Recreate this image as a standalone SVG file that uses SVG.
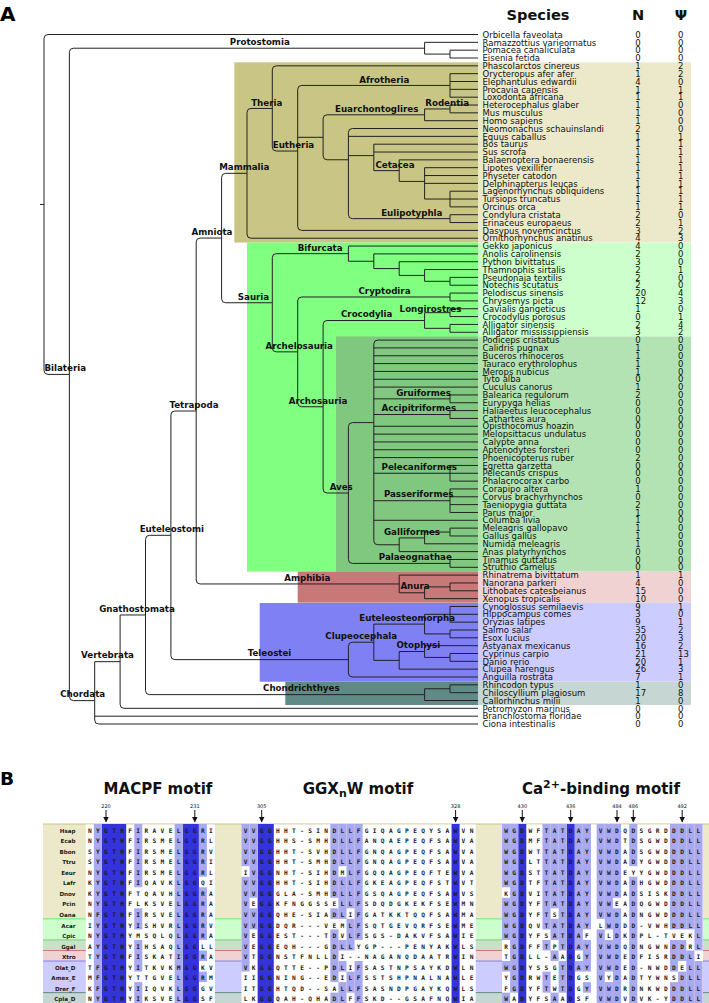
<svg xmlns="http://www.w3.org/2000/svg" width="709" height="1003" viewBox="0 0 709 1003">
<style>
.t{fill:none;stroke:#222;stroke-width:1}
.lb{font-family:"DejaVu Sans",sans-serif;font-weight:bold;font-size:8.7px;fill:#111;text-anchor:middle}
.sp{font-family:"DejaVu Sans",sans-serif;font-size:8.5px;fill:#111}
.hd{font-family:"DejaVu Sans",sans-serif;font-weight:bold;font-size:14.6px;fill:#111;text-anchor:middle}
.pl{font-family:"DejaVu Sans",sans-serif;font-weight:bold;fill:#000}
.ti{font-family:"DejaVu Sans",sans-serif;font-weight:bold;font-size:15px;fill:#111;text-anchor:middle}
.aa{font-family:"DejaVu Sans Mono",monospace;font-weight:bold;font-size:6.2px;letter-spacing:4.347px;fill:#1a1a1a}
.ab{font-family:"DejaVu Sans Mono",monospace;font-weight:bold;font-size:6.2px;letter-spacing:4.417px;fill:#1a1a1a}
.rl{font-family:"DejaVu Sans",sans-serif;font-weight:bold;font-size:5.6px;fill:#1a1a1a;text-anchor:end}
.pn{font-family:"DejaVu Sans",sans-serif;font-size:5px;fill:#111;text-anchor:middle}
.dk{fill:#3333d9}
.lt{fill:#a9a9ef}
.ar{stroke:#111;stroke-width:1;marker-end:url(#ah)}
</style>
<defs>
<marker id="ah" markerWidth="6" markerHeight="6" refX="5" refY="3" orient="auto" markerUnits="userSpaceOnUse"><path d="M0,0 L6,3 L0,6 z" fill="#111"/></marker>
</defs>
<rect width="709" height="1003" fill="#fff"/>
<text class="pl" x="0" y="20.7" font-size="20">A</text>
<g id="header">
<text class="hd" x="538" y="19.5">Species</text>
<text class="hd" x="638" y="19.5">N</text>
<text class="hd" x="681" y="19.5">Ψ</text>
</g>
<g id="clade-boxes">
<rect x="234.3" y="62.3" width="243.7" height="180.3" fill="#c9c584"/>
<rect x="478" y="62.3" width="213" height="180.3" fill="#ebe9ca"/>
<rect x="247" y="242.6" width="231" height="329" fill="#80ff80"/>
<rect x="478" y="242.6" width="213" height="93.9" fill="#ccffcc"/>
<rect x="336" y="336.5" width="142" height="235.1" fill="#80c880"/>
<rect x="478" y="336.5" width="213" height="235.1" fill="#b3e3b3"/>
<rect x="297.7" y="571.6" width="180.3" height="31.1" fill="#c87878"/>
<rect x="478" y="571.6" width="213" height="31.1" fill="#f0d2d2"/>
<rect x="259.7" y="603" width="218.3" height="78.7" fill="#8080f5"/>
<rect x="478" y="602.7" width="213" height="79" fill="#ccccff"/>
<rect x="285.3" y="681.7" width="192.7" height="23.3" fill="#5f8a85"/>
<rect x="478" y="681.7" width="213" height="23.3" fill="#c6d6d2"/>
</g>
<g id="tree-connectors" class="t">
<path d="M40,204.46 H44 M478,34.5 H48 Q44,34.5 44,38.5 V370.42 Q44,374.42 48,374.42 H69.4"/>
<path d="M424.6,48.21 H73.4 Q69.4,48.21 69.4,52.21 V696.62 Q69.4,700.62 73.4,700.62 H94.7"/>
<path d="M478,42.34 H424.6 V54.09 H450 M478,50.17 H450 V58 H478"/>
<path d="M120.1,661.66 H94.7 V720.01 Q94.7,724.01 98.7,724.01 H478 M94.7,716.18 H478"/>
<path d="M145.5,614.97 H120.1 V704.34 Q120.1,708.34 124.1,708.34 H478"/>
<path d="M170.9,535.31 H149.5 Q145.5,535.31 145.5,539.31 V690.63 Q145.5,694.63 149.5,694.63 H424.6"/>
<path d="M196.2,411 H174.9 Q170.9,411 170.9,415 V655.62 Q170.9,659.62 174.9,659.62 H348.4"/>
<path d="M221.6,238.05 H200.2 Q196.2,238.05 196.2,242.05 V579.96 Q196.2,583.96 200.2,583.96 H399.2"/>
<path d="M247,173.33 H225.6 Q221.6,173.33 221.6,177.33 V298.76 Q221.6,302.76 225.6,302.76 H272.3"/>
<path d="M272.3,108.44 H251 Q247,108.44 247,112.44 V234.22 Q247,238.22 251,238.22 H478"/>
<path d="M478,65.84 H276.3 Q272.3,65.84 272.3,69.84 V147.04 Q272.3,151.04 276.3,151.04 H297.7"/>
<path d="M450,85.43 H301.7 Q297.7,85.43 297.7,89.43 V226.39 Q297.7,230.39 301.7,230.39 H478 M297.7,137.3 H323.1"/>
<path d="M478,73.68 H450 V97.18 H478 M450,81.51 H478 M450,89.35 H478"/>
<path d="M424.6,114.81 H327.1 Q323.1,114.81 323.1,118.81 V155.78 Q323.1,159.78 327.1,159.78 H348.4"/>
<path d="M450,108.94 H424.6 V120.69 H478 M478,105.02 H450 V112.85 H478"/>
<path d="M478,128.52 H352.4 Q348.4,128.52 348.4,132.52 V214.63 Q348.4,218.63 352.4,218.63 H450 M348.4,136.36 H478 M348.4,155.62 H373.8"/>
<path d="M478,144.19 H373.8 V170.64 H399.2 M373.8,152.03 H478"/>
<path d="M478,159.87 H399.2 V181.41 H424.6"/>
<path d="M478,167.7 H424.6 V199.04 H450 M424.6,175.54 H478 M424.6,183.37 H478"/>
<path d="M478,191.21 H450 V206.88 H478 M450,199.04 H478"/>
<path d="M478,214.71 H450 V222.55 H478"/>
<path d="M348.4,253.65 H276.3 Q272.3,253.65 272.3,257.65 V347.87 Q272.3,351.87 276.3,351.87 H297.7"/>
<path d="M478,246.06 H348.4 V261.24 H373.8 M478,253.89 H373.8 V268.59 H399.2 M478,261.73 H399.2 V275.44 H424.6 M478,269.56 H424.6 V281.32 H450 M478,277.4 H450 V285.23 H478"/>
<path d="M450,296.99 H301.7 Q297.7,296.99 297.7,300.99 V402.75 Q297.7,406.75 301.7,406.75 H323.1"/>
<path d="M478,293.07 H450 V300.9 H478"/>
<path d="M424.6,320.5 H327.1 Q323.1,320.5 323.1,324.5 V489.01 Q323.1,493.01 327.1,493.01 H348.4"/>
<path d="M450,312.66 H424.6 V328.33 H450 M478,308.74 H450 V316.58 H478 M478,324.41 H450 V332.25 H478"/>
<path d="M373.8,422.62 H352.4 Q348.4,422.62 348.4,426.62 V559.39 Q348.4,563.39 352.4,563.39 H450"/>
<path d="M478,340.08 H377.8 Q373.8,340.08 373.8,344.08 V540.78 Q373.8,544.78 377.8,544.78 H399.2 M373.8,347.92 H478 M373.8,355.75 H478 M373.8,363.59 H478 M373.8,371.42 H478 M373.8,379.26 H478 M373.8,387.09 H478 M373.8,398.85 H450 M373.8,414.52 H450 M373.8,426.27 H478 M373.8,434.11 H478 M373.8,441.94 H478 M373.8,449.78 H478 M373.8,457.61 H478 M373.8,473.28 H450 M373.8,500.71 H450 M373.8,520.29 H478"/>
<path d="M478,394.93 H450 V402.76 H478 M478,410.6 H450 V418.43 H478"/>
<path d="M478,465.45 H450 V481.12 H478 M450,473.28 H478"/>
<path d="M478,488.95 H450 V512.46 H478 M450,496.79 H478 M450,504.62 H478"/>
<path d="M424.6,537.93 H399.2 V551.64 H478 M450,532.05 H424.6 V543.8 H478 M478,528.13 H450 V535.97 H478"/>
<path d="M478,559.47 H450 V567.31 H478"/>
<path d="M478,575.14 H399.2 V592.77 H424.6 M450,586.9 H424.6 V598.65 H478 M478,582.98 H450 V590.81 H478"/>
<path d="M373.8,642.23 H352.4 Q348.4,642.23 348.4,646.23 V673 Q348.4,677 352.4,677 H478"/>
<path d="M424.6,624.11 H373.8 V660.35 H399.2 M450,614.32 H424.6 V633.91 H450 M478,606.48 H450 V622.15 H478 M450,614.32 H478 M478,629.99 H450 V637.82 H478"/>
<path d="M424.6,651.53 H399.2 V669.17 H478 M478,645.66 H424.6 V657.41 H450 M478,653.49 H450 V661.33 H478"/>
<path d="M450,688.75 H424.6 V700.51 H478 M478,684.84 H450 V692.67 H478"/>
</g>
<g id="clade-labels" class="lb">
<text x="259.8" y="45.4">Protostomia</text>
<text x="266.7" y="106.1">Theria</text>
<text x="384.3" y="82.6">Afrotheria</text>
<text x="376.7" y="112.1">Euarchontoglires</text>
<text x="447.2" y="106.1">Rodentia</text>
<text x="293.5" y="148.1">Eutheria</text>
<text x="395" y="168.1">Cetacea</text>
<text x="244.3" y="170.1">Mammalia</text>
<text x="411.8" y="215.8">Eulipotyphla</text>
<text x="212" y="235.1">Amniota</text>
<text x="320.2" y="250.8">Bifurcata</text>
<text x="253.5" y="299.8">Sauria</text>
<text x="384.5" y="294.1">Cryptodira</text>
<text x="366.7" y="317.4">Crocodylia</text>
<text x="430.5" y="312.1">Longirostres</text>
<text x="299.2" y="348.8">Archelosauria</text>
<text x="65.2" y="371.4">Bilateria</text>
<text x="423.5" y="395.8">Gruiformes</text>
<text x="418.8" y="411.1">Accipitriformes</text>
<text x="318" y="403.8">Archosauria</text>
<text x="194" y="408.1">Tetrapoda</text>
<text x="419.3" y="470.1">Pelecaniformes</text>
<text x="341.2" y="489.8">Aves</text>
<text x="418.7" y="497.4">Passeriformes</text>
<text x="171.8" y="531.8">Euteleostomi</text>
<text x="412" y="534.8">Galliformes</text>
<text x="415.3" y="560.1">Palaeognathae</text>
<text x="307.3" y="580.8">Amphibia</text>
<text x="415" y="589.4">Anura</text>
<text x="137" y="611.8">Gnathostomata</text>
<text x="407.2" y="620.8">Euteleosteomorpha</text>
<text x="361.2" y="639.1">Clupeocephala</text>
<text x="418.3" y="648.4">Otophysi</text>
<text x="269.5" y="656.1">Teleostei</text>
<text x="107.5" y="658.4">Vertebrata</text>
<text x="301.3" y="691.1">Chondrichthyes</text>
<text x="82.7" y="697.1">Chordata</text>
</g>
<g id="species">
<text class="sp" y="37.7"><tspan x="482.5">Orbicella faveolata</tspan><tspan x="482.5" dy="7.835">Ramazzottius varieornatus</tspan><tspan x="482.5" dy="7.835">Pomacea canaliculata</tspan><tspan x="482.5" dy="7.835">Eisenia fetida</tspan><tspan x="482.5" dy="7.835">Phascolarctos cinereus</tspan><tspan x="482.5" dy="7.835">Orycteropus afer afer</tspan><tspan x="482.5" dy="7.835">Elephantulus edwardii</tspan><tspan x="482.5" dy="7.835">Procavia capensis</tspan><tspan x="482.5" dy="7.835">Loxodonta africana</tspan><tspan x="482.5" dy="7.835">Heterocephalus glaber</tspan><tspan x="482.5" dy="7.835">Mus musculus</tspan><tspan x="482.5" dy="7.835">Homo sapiens</tspan><tspan x="482.5" dy="7.835">Neomonachus schauinslandi</tspan><tspan x="482.5" dy="7.835">Equus caballus</tspan><tspan x="482.5" dy="7.835">Bos taurus</tspan><tspan x="482.5" dy="7.835">Sus scrofa</tspan><tspan x="482.5" dy="7.835">Balaenoptera bonaerensis</tspan><tspan x="482.5" dy="7.835">Lipotes vexillifer</tspan><tspan x="482.5" dy="7.835">Physeter catodon</tspan><tspan x="482.5" dy="7.835">Delphinapterus leucas</tspan><tspan x="482.5" dy="7.835">Lagenorhynchus obliquidens</tspan><tspan x="482.5" dy="7.835">Tursiops truncatus</tspan><tspan x="482.5" dy="7.835">Orcinus orca</tspan><tspan x="482.5" dy="7.835">Condylura cristata</tspan><tspan x="482.5" dy="7.835">Erinaceus europaeus</tspan><tspan x="482.5" dy="7.835">Dasypus novemcinctus</tspan><tspan x="482.5" dy="7.835">Ornithorhynchus anatinus</tspan><tspan x="482.5" dy="7.835">Gekko japonicus</tspan><tspan x="482.5" dy="7.835">Anolis carolinensis</tspan><tspan x="482.5" dy="7.835">Python bivittatus</tspan><tspan x="482.5" dy="7.835">Thamnophis sirtalis</tspan><tspan x="482.5" dy="7.835">Pseudonaja textilis</tspan><tspan x="482.5" dy="7.835">Notechis scutatus</tspan><tspan x="482.5" dy="7.835">Pelodiscus sinensis</tspan><tspan x="482.5" dy="7.835">Chrysemys picta</tspan><tspan x="482.5" dy="7.835">Gavialis gangeticus</tspan><tspan x="482.5" dy="7.835">Crocodylus porosus</tspan><tspan x="482.5" dy="7.835">Alligator sinensis</tspan><tspan x="482.5" dy="7.835">Alligator mississippiensis</tspan><tspan x="482.5" dy="7.835">Podiceps cristatus</tspan><tspan x="482.5" dy="7.835">Calidris pugnax</tspan><tspan x="482.5" dy="7.835">Buceros rhinoceros</tspan><tspan x="482.5" dy="7.835">Tauraco erythrolophus</tspan><tspan x="482.5" dy="7.835">Merops nubicus</tspan><tspan x="482.5" dy="7.835">Tyto alba</tspan><tspan x="482.5" dy="7.835">Cuculus canorus</tspan><tspan x="482.5" dy="7.835">Balearica regulorum</tspan><tspan x="482.5" dy="7.835">Eurypyga helias</tspan><tspan x="482.5" dy="7.835">Haliaeetus leucocephalus</tspan><tspan x="482.5" dy="7.835">Cathartes aura</tspan><tspan x="482.5" dy="7.835">Opisthocomus hoazin</tspan><tspan x="482.5" dy="7.835">Melopsittacus undulatus</tspan><tspan x="482.5" dy="7.835">Calypte anna</tspan><tspan x="482.5" dy="7.835">Aptenodytes forsteri</tspan><tspan x="482.5" dy="7.835">Phoenicopterus ruber</tspan><tspan x="482.5" dy="7.835">Egretta garzetta</tspan><tspan x="482.5" dy="7.835">Pelecanus crispus</tspan><tspan x="482.5" dy="7.835">Phalacrocorax carbo</tspan><tspan x="482.5" dy="7.835">Corapipo altera</tspan><tspan x="482.5" dy="7.835">Corvus brachyrhynchos</tspan><tspan x="482.5" dy="7.835">Taeniopygia guttata</tspan><tspan x="482.5" dy="7.835">Parus major</tspan><tspan x="482.5" dy="7.835">Columba livia</tspan><tspan x="482.5" dy="7.835">Meleagris gallopavo</tspan><tspan x="482.5" dy="7.835">Gallus gallus</tspan><tspan x="482.5" dy="7.835">Numida meleagris</tspan><tspan x="482.5" dy="7.835">Anas platyrhynchos</tspan><tspan x="482.5" dy="7.835">Tinamus guttatus</tspan><tspan x="482.5" dy="7.835">Struthio camelus</tspan><tspan x="482.5" dy="7.835">Rhinatrema bivittatum</tspan><tspan x="482.5" dy="7.835">Nanorana parkeri</tspan><tspan x="482.5" dy="7.835">Lithobates catesbeianus</tspan><tspan x="482.5" dy="7.835">Xenopus tropicalis</tspan><tspan x="482.5" dy="7.835">Cynoglossus semilaevis</tspan><tspan x="482.5" dy="7.835">Hippocampus comes</tspan><tspan x="482.5" dy="7.835">Oryzias latipes</tspan><tspan x="482.5" dy="7.835">Salmo salar</tspan><tspan x="482.5" dy="7.835">Esox lucius</tspan><tspan x="482.5" dy="7.835">Astyanax mexicanus</tspan><tspan x="482.5" dy="7.835">Cyprinus carpio</tspan><tspan x="482.5" dy="7.835">Danio rerio</tspan><tspan x="482.5" dy="7.835">Clupea harengus</tspan><tspan x="482.5" dy="7.835">Anguilla rostrata</tspan><tspan x="482.5" dy="7.835">Rhincodon typus</tspan><tspan x="482.5" dy="7.835">Chiloscyllium plagiosum</tspan><tspan x="482.5" dy="7.835">Callorhinchus milii</tspan><tspan x="482.5" dy="7.835">Petromyzon marinus</tspan><tspan x="482.5" dy="7.835">Branchiostoma floridae</tspan><tspan x="482.5" dy="7.835">Ciona intestinalis</tspan></text>
<text class="sp" y="37.7"><tspan x="635.3">0</tspan><tspan x="635.3" dy="7.835">0</tspan><tspan x="635.3" dy="7.835">0</tspan><tspan x="635.3" dy="7.835">0</tspan><tspan x="635.3" dy="7.835">1</tspan><tspan x="635.3" dy="7.835">1</tspan><tspan x="635.3" dy="7.835">4</tspan><tspan x="635.3" dy="7.835">1</tspan><tspan x="635.3" dy="7.835">1</tspan><tspan x="635.3" dy="7.835">1</tspan><tspan x="635.3" dy="7.835">1</tspan><tspan x="635.3" dy="7.835">1</tspan><tspan x="635.3" dy="7.835">2</tspan><tspan x="635.3" dy="7.835">1</tspan><tspan x="635.3" dy="7.835">1</tspan><tspan x="635.3" dy="7.835">1</tspan><tspan x="635.3" dy="7.835">1</tspan><tspan x="635.3" dy="7.835">1</tspan><tspan x="635.3" dy="7.835">1</tspan><tspan x="635.3" dy="7.835">1</tspan><tspan x="635.3" dy="7.835">1</tspan><tspan x="635.3" dy="7.835">1</tspan><tspan x="635.3" dy="7.835">1</tspan><tspan x="635.3" dy="7.835">2</tspan><tspan x="635.3" dy="7.835">2</tspan><tspan x="635.3" dy="7.835">3</tspan><tspan x="635.3" dy="7.835">4</tspan><tspan x="635.3" dy="7.835">4</tspan><tspan x="635.3" dy="7.835">2</tspan><tspan x="635.3" dy="7.835">3</tspan><tspan x="635.3" dy="7.835">2</tspan><tspan x="635.3" dy="7.835">2</tspan><tspan x="635.3" dy="7.835">2</tspan><tspan x="635.3" dy="7.835">20</tspan><tspan x="635.3" dy="7.835">12</tspan><tspan x="635.3" dy="7.835">1</tspan><tspan x="635.3" dy="7.835">0</tspan><tspan x="635.3" dy="7.835">2</tspan><tspan x="635.3" dy="7.835">3</tspan><tspan x="635.3" dy="7.835">0</tspan><tspan x="635.3" dy="7.835">1</tspan><tspan x="635.3" dy="7.835">1</tspan><tspan x="635.3" dy="7.835">1</tspan><tspan x="635.3" dy="7.835">1</tspan><tspan x="635.3" dy="7.835">0</tspan><tspan x="635.3" dy="7.835">1</tspan><tspan x="635.3" dy="7.835">2</tspan><tspan x="635.3" dy="7.835">0</tspan><tspan x="635.3" dy="7.835">0</tspan><tspan x="635.3" dy="7.835">0</tspan><tspan x="635.3" dy="7.835">0</tspan><tspan x="635.3" dy="7.835">0</tspan><tspan x="635.3" dy="7.835">0</tspan><tspan x="635.3" dy="7.835">0</tspan><tspan x="635.3" dy="7.835">2</tspan><tspan x="635.3" dy="7.835">0</tspan><tspan x="635.3" dy="7.835">0</tspan><tspan x="635.3" dy="7.835">0</tspan><tspan x="635.3" dy="7.835">1</tspan><tspan x="635.3" dy="7.835">0</tspan><tspan x="635.3" dy="7.835">2</tspan><tspan x="635.3" dy="7.835">1</tspan><tspan x="635.3" dy="7.835">1</tspan><tspan x="635.3" dy="7.835">1</tspan><tspan x="635.3" dy="7.835">1</tspan><tspan x="635.3" dy="7.835">1</tspan><tspan x="635.3" dy="7.835">0</tspan><tspan x="635.3" dy="7.835">0</tspan><tspan x="635.3" dy="7.835">0</tspan><tspan x="635.3" dy="7.835">1</tspan><tspan x="635.3" dy="7.835">4</tspan><tspan x="635.3" dy="7.835">15</tspan><tspan x="635.3" dy="7.835">10</tspan><tspan x="635.3" dy="7.835">9</tspan><tspan x="635.3" dy="7.835">3</tspan><tspan x="635.3" dy="7.835">9</tspan><tspan x="635.3" dy="7.835">35</tspan><tspan x="635.3" dy="7.835">20</tspan><tspan x="635.3" dy="7.835">16</tspan><tspan x="635.3" dy="7.835">21</tspan><tspan x="635.3" dy="7.835">20</tspan><tspan x="635.3" dy="7.835">26</tspan><tspan x="635.3" dy="7.835">7</tspan><tspan x="635.3" dy="7.835">1</tspan><tspan x="635.3" dy="7.835">17</tspan><tspan x="635.3" dy="7.835">1</tspan><tspan x="635.3" dy="7.835">0</tspan><tspan x="635.3" dy="7.835">0</tspan><tspan x="635.3" dy="7.835">0</tspan></text>
<text class="sp" y="37.7"><tspan x="678">0</tspan><tspan x="678" dy="7.835">0</tspan><tspan x="678" dy="7.835">0</tspan><tspan x="678" dy="7.835">0</tspan><tspan x="678" dy="7.835">2</tspan><tspan x="678" dy="7.835">2</tspan><tspan x="678" dy="7.835">0</tspan><tspan x="678" dy="7.835">1</tspan><tspan x="678" dy="7.835">1</tspan><tspan x="678" dy="7.835">0</tspan><tspan x="678" dy="7.835">0</tspan><tspan x="678" dy="7.835">0</tspan><tspan x="678" dy="7.835">0</tspan><tspan x="678" dy="7.835">1</tspan><tspan x="678" dy="7.835">1</tspan><tspan x="678" dy="7.835">1</tspan><tspan x="678" dy="7.835">1</tspan><tspan x="678" dy="7.835">1</tspan><tspan x="678" dy="7.835">1</tspan><tspan x="678" dy="7.835">1</tspan><tspan x="678" dy="7.835">1</tspan><tspan x="678" dy="7.835">1</tspan><tspan x="678" dy="7.835">1</tspan><tspan x="678" dy="7.835">0</tspan><tspan x="678" dy="7.835">1</tspan><tspan x="678" dy="7.835">2</tspan><tspan x="678" dy="7.835">3</tspan><tspan x="678" dy="7.835">0</tspan><tspan x="678" dy="7.835">0</tspan><tspan x="678" dy="7.835">0</tspan><tspan x="678" dy="7.835">1</tspan><tspan x="678" dy="7.835">0</tspan><tspan x="678" dy="7.835">0</tspan><tspan x="678" dy="7.835">4</tspan><tspan x="678" dy="7.835">3</tspan><tspan x="678" dy="7.835">0</tspan><tspan x="678" dy="7.835">1</tspan><tspan x="678" dy="7.835">4</tspan><tspan x="678" dy="7.835">2</tspan><tspan x="678" dy="7.835">0</tspan><tspan x="678" dy="7.835">0</tspan><tspan x="678" dy="7.835">0</tspan><tspan x="678" dy="7.835">0</tspan><tspan x="678" dy="7.835">0</tspan><tspan x="678" dy="7.835">0</tspan><tspan x="678" dy="7.835">0</tspan><tspan x="678" dy="7.835">0</tspan><tspan x="678" dy="7.835">0</tspan><tspan x="678" dy="7.835">0</tspan><tspan x="678" dy="7.835">0</tspan><tspan x="678" dy="7.835">0</tspan><tspan x="678" dy="7.835">0</tspan><tspan x="678" dy="7.835">0</tspan><tspan x="678" dy="7.835">0</tspan><tspan x="678" dy="7.835">0</tspan><tspan x="678" dy="7.835">0</tspan><tspan x="678" dy="7.835">0</tspan><tspan x="678" dy="7.835">0</tspan><tspan x="678" dy="7.835">0</tspan><tspan x="678" dy="7.835">0</tspan><tspan x="678" dy="7.835">0</tspan><tspan x="678" dy="7.835">0</tspan><tspan x="678" dy="7.835">0</tspan><tspan x="678" dy="7.835">0</tspan><tspan x="678" dy="7.835">0</tspan><tspan x="678" dy="7.835">0</tspan><tspan x="678" dy="7.835">0</tspan><tspan x="678" dy="7.835">0</tspan><tspan x="678" dy="7.835">0</tspan><tspan x="678" dy="7.835">1</tspan><tspan x="678" dy="7.835">0</tspan><tspan x="678" dy="7.835">0</tspan><tspan x="678" dy="7.835">0</tspan><tspan x="678" dy="7.835">1</tspan><tspan x="678" dy="7.835">0</tspan><tspan x="678" dy="7.835">1</tspan><tspan x="678" dy="7.835">2</tspan><tspan x="678" dy="7.835">3</tspan><tspan x="678" dy="7.835">2</tspan><tspan x="678" dy="7.835">13</tspan><tspan x="678" dy="7.835">1</tspan><tspan x="678" dy="7.835">3</tspan><tspan x="678" dy="7.835">1</tspan><tspan x="678" dy="7.835">0</tspan><tspan x="678" dy="7.835">8</tspan><tspan x="678" dy="7.835">0</tspan><tspan x="678" dy="7.835">0</tspan><tspan x="678" dy="7.835">0</tspan><tspan x="678" dy="7.835">0</tspan></text>
</g>
<text class="pl" x="0" y="785" font-size="18.5">B</text>
<g id="motif-titles">
<text class="ti" x="158" y="794">MACPF motif</text>
<text class="ti" x="358" y="794">GGX<tspan font-size="11" dy="3">n</tspan><tspan dy="-3">W motif</tspan></text>
<text class="ti" x="601" y="794">Ca<tspan font-size="11" dy="-6">2+</tspan><tspan dy="6">-binding motif</tspan></text>
</g>
<g id="positions">
<text class="pn" x="106" y="808.4">220</text>
<text class="pn" x="194.8" y="808.4">231</text>
<text class="pn" x="261.7" y="808.4">305</text>
<text class="pn" x="455.6" y="808.4">328</text>
<text class="pn" x="522.3" y="808.4">430</text>
<text class="pn" x="570.7" y="808.4">436</text>
<text class="pn" x="617" y="808.4">484</text>
<text class="pn" x="633.3" y="808.4">486</text>
<text class="pn" x="682.2" y="808.4">492</text>
<line class="ar" x1="106" y1="810" x2="106" y2="821.5"/>
<line class="ar" x1="194.8" y1="810" x2="194.8" y2="821.5"/>
<line class="ar" x1="261.7" y1="810" x2="261.7" y2="821.5"/>
<line class="ar" x1="455.6" y1="810" x2="455.6" y2="821.5"/>
<line class="ar" x1="522.3" y1="810" x2="522.3" y2="821.5"/>
<line class="ar" x1="570.7" y1="810" x2="570.7" y2="821.5"/>
<line class="ar" x1="617" y1="810" x2="617" y2="821.5"/>
<line class="ar" x1="633.3" y1="810" x2="633.3" y2="821.5"/>
<line class="ar" x1="682.2" y1="810" x2="682.2" y2="821.5"/>
</g>
<g id="alignment-bands">
<rect x="43" y="824" width="666" height="94.86" fill="#ebe9ca"/>
<rect x="43" y="918.86" width="666" height="21.08" fill="#ccffcc"/>
<rect x="43" y="939.94" width="666" height="10.54" fill="#c8e2c8"/>
<rect x="43" y="950.48" width="666" height="10.54" fill="#f0d2d2"/>
<rect x="43" y="961.02" width="666" height="31.62" fill="#ccccff"/>
<rect x="43" y="992.64" width="666" height="11" fill="#c6d6d2"/>
<path d="M43,824 H709" stroke="#c9c584" stroke-width="1"/>
<path d="M43,918.86 H709" stroke="#66ee66" stroke-width="1"/>
<path d="M43,939.94 H709" stroke="#80c880" stroke-width="1"/>
<path d="M43,950.48 H709" stroke="#c87878" stroke-width="1"/>
<path d="M43,961.02 H709" stroke="#8080f5" stroke-width="1"/>
<path d="M43,992.64 H709" stroke="#5f8a85" stroke-width="1"/>
<rect x="85.8" y="824.5" width="129.2" height="179" fill="#fff"/>
<rect x="241.5" y="824.5" width="234.2" height="179" fill="#fff"/>
<rect x="502" y="824.5" width="201" height="179" fill="#fff"/>
</g>
<g id="shading">
<rect class="dk" x="101.96" y="824" width="24.24" height="180"/>
<rect class="dk" x="182.76" y="824" width="16.16" height="180"/>
<rect class="lt" x="93.86" y="824" width="8.08" height="180"/>
<rect class="lt" x="134.26" y="824" width="8.08" height="63.24"/>
<rect class="lt" x="134.26" y="908.32" width="8.08" height="21.08"/>
<rect class="lt" x="134.26" y="939.94" width="8.08" height="31.62"/>
<rect class="lt" x="134.26" y="982.1" width="8.08" height="22"/>
<rect class="lt" x="174.66" y="824" width="8.08" height="180"/>
<rect class="lt" x="198.86" y="824" width="8.08" height="52.7"/>
<rect class="lt" x="198.86" y="887.24" width="8.08" height="52.7"/>
<rect class="lt" x="198.86" y="950.48" width="8.08" height="10.54"/>
<rect class="lt" x="198.86" y="971.56" width="8.08" height="10.54"/>
<rect class="dk" x="257.62" y="824" width="16.16" height="180"/>
<rect class="dk" x="451.54" y="824" width="8.08" height="180"/>
<rect class="lt" x="241.46" y="824" width="8.08" height="42.16"/>
<rect class="lt" x="241.46" y="876.7" width="8.08" height="94.86"/>
<rect class="lt" x="249.54" y="824" width="8.08" height="73.78"/>
<rect class="lt" x="249.54" y="908.32" width="8.08" height="21.08"/>
<rect class="lt" x="330.34" y="824" width="8.08" height="73.78"/>
<rect class="lt" x="330.34" y="908.32" width="8.08" height="10.54"/>
<rect class="lt" x="330.34" y="929.4" width="8.08" height="52.7"/>
<rect class="lt" x="330.34" y="992.64" width="8.08" height="11"/>
<rect class="lt" x="338.42" y="824" width="8.08" height="42.16"/>
<rect class="lt" x="338.42" y="876.7" width="8.08" height="42.16"/>
<rect class="lt" x="338.42" y="939.94" width="8.08" height="10.54"/>
<rect class="lt" x="338.42" y="961.02" width="8.08" height="10.54"/>
<rect class="lt" x="338.42" y="982.1" width="8.08" height="22"/>
<rect class="lt" x="346.5" y="824" width="8.08" height="84.32"/>
<rect class="lt" x="346.5" y="918.86" width="8.08" height="31.62"/>
<rect class="lt" x="346.5" y="971.56" width="8.08" height="21.08"/>
<rect class="lt" x="354.58" y="824" width="8.08" height="115.94"/>
<rect class="lt" x="354.58" y="961.02" width="8.08" height="43"/>
<rect class="dk" x="518.22" y="824" width="8.08" height="180"/>
<rect class="dk" x="566.7" y="824" width="8.08" height="180"/>
<rect class="lt" x="502.06" y="824" width="8.08" height="63.24"/>
<rect class="lt" x="502.06" y="897.78" width="8.08" height="42.16"/>
<rect class="lt" x="502.06" y="961.02" width="8.08" height="10.54"/>
<rect class="lt" x="502.06" y="992.64" width="8.08" height="11"/>
<rect class="lt" x="510.14" y="824" width="8.08" height="168.64"/>
<rect class="lt" x="542.46" y="824" width="8.08" height="105.4"/>
<rect class="lt" x="542.46" y="939.94" width="8.08" height="10.54"/>
<rect class="lt" x="542.46" y="971.56" width="8.08" height="21.08"/>
<rect class="lt" x="550.54" y="824" width="8.08" height="84.32"/>
<rect class="lt" x="550.54" y="918.86" width="8.08" height="21.08"/>
<rect class="lt" x="550.54" y="950.48" width="8.08" height="10.54"/>
<rect class="lt" x="550.54" y="992.64" width="8.08" height="11"/>
<rect class="lt" x="558.62" y="824" width="8.08" height="126.48"/>
<rect class="lt" x="558.62" y="961.02" width="8.08" height="31.62"/>
<rect class="lt" x="574.78" y="824" width="8.08" height="126.48"/>
<rect class="lt" x="574.78" y="961.02" width="8.08" height="10.54"/>
<rect class="lt" x="582.86" y="824" width="8.08" height="105.4"/>
<rect class="lt" x="582.86" y="939.94" width="8.08" height="31.62"/>
<rect class="lt" x="582.86" y="982.1" width="8.08" height="10.54"/>
<rect class="lt" x="596.63" y="824" width="8.15" height="94.86"/>
<rect class="lt" x="596.63" y="929.4" width="8.15" height="74"/>
<rect class="lt" x="604.78" y="824" width="8.15" height="105.4"/>
<rect class="lt" x="604.78" y="939.94" width="8.15" height="31.62"/>
<rect class="lt" x="604.78" y="982.1" width="8.15" height="22"/>
<rect class="lt" x="612.93" y="824" width="8.15" height="73.78"/>
<rect class="lt" x="612.93" y="908.32" width="8.15" height="95"/>
<rect class="lt" x="629.23" y="824" width="8.15" height="42.16"/>
<rect class="lt" x="629.23" y="876.7" width="8.15" height="127"/>
<rect class="lt" x="669.98" y="824" width="8.15" height="105.4"/>
<rect class="lt" x="669.98" y="939.94" width="8.15" height="31.62"/>
<rect class="lt" x="669.98" y="982.1" width="8.15" height="22"/>
<rect class="lt" x="678.13" y="824" width="8.15" height="105.4"/>
<rect class="lt" x="678.13" y="939.94" width="8.15" height="21.08"/>
<rect class="lt" x="678.13" y="971.56" width="8.15" height="32"/>
<rect class="lt" x="686.28" y="824" width="8.15" height="105.4"/>
<rect class="lt" x="686.28" y="950.48" width="8.15" height="53"/>
<rect class="lt" x="694.43" y="824" width="8.15" height="126.48"/>
<rect class="lt" x="694.43" y="961.02" width="8.15" height="43"/>
</g>
<g id="row-labels" class="rl">
<text x="75.5" y="832.7">Hsap</text>
<text x="75.5" y="843.24">Ecab</text>
<text x="75.5" y="853.78">Bbon</text>
<text x="75.5" y="864.32">Ttru</text>
<text x="75.5" y="874.86">Eeur</text>
<text x="75.5" y="885.4">Lafr</text>
<text x="75.5" y="895.94">Dnov</text>
<text x="75.5" y="906.48">Pcin</text>
<text x="75.5" y="917.02">Oana</text>
<text x="75.5" y="927.56">Acar</text>
<text x="75.5" y="938.1">Cpic</text>
<text x="75.5" y="948.64">Ggal</text>
<text x="75.5" y="959.18">Xtro</text>
<text x="75.5" y="969.72">Olat_D</text>
<text x="75.5" y="980.26">Amex_E</text>
<text x="75.5" y="990.8">Drer_F</text>
<text x="75.5" y="1001.34">Cpla_D</text>
</g>
<g id="macpf-letters" class="aa">
<text x="87.93" y="832.7">NYGTHFIRAVELGGRI</text>
<text x="87.93" y="843.24">NYGTHFIRSMELGGRL</text>
<text x="87.93" y="853.78">SYGTHFIRSMELGGRV</text>
<text x="87.93" y="864.32">SYGTHFIRSMELGGRI</text>
<text x="87.93" y="874.86">NYGTHFIRSMELGGRL</text>
<text x="87.93" y="885.4">KYGTHFIQAVKLGGQI</text>
<text x="87.93" y="895.94">KYGTHFTQAVHLGGRA</text>
<text x="87.93" y="906.48">NYGTHFLKSVELGGRA</text>
<text x="87.93" y="917.02">NFGTHFIRSVELGGRA</text>
<text x="87.93" y="927.56">IYGTHYISHVRLGGRV</text>
<text x="87.93" y="938.1">NYGTHYMSQLQLGGRA</text>
<text x="87.93" y="948.64">AYGTHYIHSAQLGGLL</text>
<text x="87.93" y="959.18">TYGTHFISKATIGGRA</text>
<text x="87.93" y="969.72">TFGTHYITKVKMGGKV</text>
<text x="87.93" y="980.26">MFGTHYTTGVELGGRM</text>
<text x="87.93" y="990.8">KFGTHYIIQVKLGGGV</text>
<text x="87.93" y="1001.34">NYGTHYIKSVELGGSF</text>
</g>
<g id="ggxnw-letters" class="aa">
<text x="243.63" y="832.7">VVGGHHT-SINDLLFGIQAGPEQYSAWVN</text>
<text x="243.63" y="843.24">VVGGHHS-SMHDLLFANQAEPEQFSAWVA</text>
<text x="243.63" y="853.78">VVGGHHT-SVHDLLFGNQAGPEQFSAWVA</text>
<text x="243.63" y="864.32">VVGGHHT-SMHDLLFGNQAGPEQFSAWVA</text>
<text x="243.63" y="874.86">IVGGNHT-SIHDMLFGQQAGPEQFTEWVA</text>
<text x="243.63" y="885.4">VVGGHHT-SIHDLLFGKEAGPEQFSTWVT</text>
<text x="243.63" y="895.94">VVGGGLA-SMHDLLFGSQAGPEQFSAWVS</text>
<text x="243.63" y="906.48">VEGGKFNGGSSELLFSDQDGKEKFSEWMN</text>
<text x="243.63" y="917.02">VVGGQHE-SIADLIFGATKKTQQFSAWMA</text>
<text x="243.63" y="927.56">VVGGDQR---VEMLFSQTGEVQRFSEWME</text>
<text x="243.63" y="938.1">VEGGEST---TDVLFSGS-DAKVFSAWIE</text>
<text x="243.63" y="948.64">VEGGEQH---GDLLYGP---PENYAKWLS</text>
<text x="243.63" y="959.18">VTGGNSTFNLLDI--NAGANQDAATRWIN</text>
<text x="243.63" y="969.72">VKGGQTTE--PDLIFSASTNPSAYKDWLN</text>
<text x="243.63" y="980.26">IIGGNING--EDILFSSTSHPNALNAWLE</text>
<text x="243.63" y="990.8">ITGGHTQD--SALLFSASNDPGAYKQWLS</text>
<text x="243.63" y="1001.34">LKGGQAH-QHADLFFSKD--GSAFNQWIA</text>
</g>
<g id="ca-letters">
<g class="aa">
<text x="504.23" y="832.7">WGDWFTATDAY</text>
<text x="504.23" y="843.24">WGDMFTATDAY</text>
<text x="504.23" y="853.78">WGDWTTATDAY</text>
<text x="504.23" y="864.32">WGDLTTATDAY</text>
<text x="504.23" y="874.86">WGDSTTATDAY</text>
<text x="504.23" y="885.4">WGDTFTATDAY</text>
<text x="504.23" y="895.94">KGDVITATDAY</text>
<text x="504.23" y="906.48">WGDYFTATDAY</text>
<text x="504.23" y="917.02">WGDYFTSTDAY</text>
<text x="504.23" y="927.56">WGDQVTATDAY</text>
<text x="504.23" y="938.1">WGDYFSATDAF</text>
<text x="504.23" y="948.64">RGDFFTPTDAY</text>
<text x="504.23" y="959.18">TGDLL-AADGY</text>
<text x="504.23" y="969.72">WGDYSSGTDAY</text>
<text x="504.23" y="980.26">YGDRWTETDGS</text>
<text x="504.23" y="990.8">FGDYFTWTDGY</text>
<text x="504.23" y="1001.34">WADYFSAADSF</text>
</g>
<g class="ab">
<text x="598.83" y="832.7">VWDQDSGRDDDLL</text>
<text x="598.83" y="843.24">VWDTDSGWDDDLL</text>
<text x="598.83" y="853.78">VWDADSGWDDDLL</text>
<text x="598.83" y="864.32">VWDADYGWDDDLL</text>
<text x="598.83" y="874.86">VWDEYYGWDDDLL</text>
<text x="598.83" y="885.4">VWDADHGWDDDLL</text>
<text x="598.83" y="895.94">VWDADSISKDDLL</text>
<text x="598.83" y="906.48">VWEADQGWDDDLL</text>
<text x="598.83" y="917.02">VWDADNGWDDDLL</text>
<text x="598.83" y="927.56">LWDDD-VWHDDLL</text>
<text x="598.83" y="938.1">VLDKDPL-TVEKL</text>
<text x="598.83" y="948.64">VWDQDNGWNDDRL</text>
<text x="598.83" y="959.18">VWDEDFISRDDLI</text>
<text x="598.83" y="969.72">VWDED-NWDDELL</text>
<text x="598.83" y="980.26">VYDADTYWNSDLL</text>
<text x="598.83" y="990.8">VWDRDNKWDDDLL</text>
<text x="598.83" y="1001.34">VWDVDVK-YDDLL</text>
</g>
</g>
</svg>
